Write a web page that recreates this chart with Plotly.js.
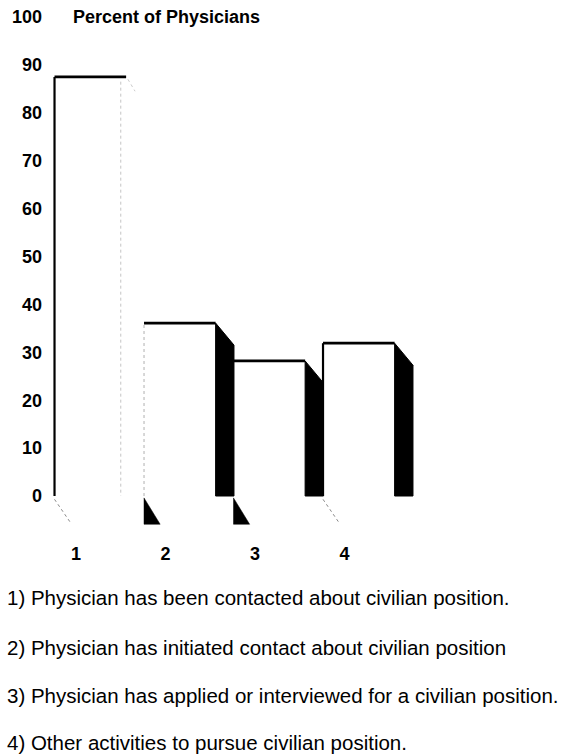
<!DOCTYPE html>
<html>
<head>
<meta charset="utf-8">
<script src="https://cdn.plot.ly/plotly-3.0.1.min.js"></script>
<style>html,body{margin:0;padding:0;background:#fff;}#chart{width:571px;height:756px;}</style>
</head>
<body>
<div id="chart"></div>
<script>
// ---- data ----
const categories = ['1', '2', '3', '4'];
const values = [87.5, 36.1, 28.2, 31.9];
const yTickValues = [0, 10, 20, 30, 40, 50, 60, 70, 80, 90, 100];
const yTickLabels = ['0', '10', '20', '30', '40', '50', '60', '70', '80', '90', '100'];
const axisTitle = 'Percent of Physicians';
const descriptions = [
  '1) Physician has been contacted about civilian position.',
  '2) Physician has initiated contact about civilian position',
  '3) Physician has applied or interviewed for a civilian position.',
  '4) Other activities to pursue civilian position.'
];

// ---- styling / geometry of the pseudo-3D bars (in axis units) ----
const FRONT_L = -0.24, FRONT_R = 0.56, SIDE_R = 0.765, DROP = 4.6;
const FLOOR_DX = 0.18, FLOOR_TOP = -0.4, FLOOR_BOT = -5.9;
const sideStyle = ['faint', 'dark', 'dark', 'dark'];
const leftEdgeStyle = ['solid', 'faint', 'none', 'solid'];
const floorStyle = ['dash', 'tri', 'tri', 'dash'];

const W = 571, H = 756;
const M = {l: 46, r: 20, t: 7, b: 222};
const pxPerX = 89.5, pxPerY = 4.79, zeroPx = 496, firstCatPx = 76;
const plotW = W - M.l - M.r, plotH = H - M.t - M.b;
const yMin = -((H - M.b) - zeroPx) / pxPerY;
const yMax = yMin + plotH / pxPerY;
const xMin = 1 - (firstCatPx - M.l) / pxPerX;
const xMax = xMin + plotW / pxPerX;

const xs = categories.map((c, i) => i + 1);
const traces = [];

// front faces
traces.push({
  type: 'bar', x: xs, y: values, width: FRONT_R - FRONT_L, offset: FRONT_L,
  marker: {color: '#ffffff', line: {width: 0}}, hoverinfo: 'skip', showlegend: false
});

values.forEach((v, i) => {
  const x = xs[i];
  const fl = x + FRONT_L, fr = x + FRONT_R, sr = x + SIDE_R;
  // side face
  if (sideStyle[i] === 'dark') {
    traces.push({type: 'scatter', mode: 'lines', x: [fr, fr, sr, sr, fr], y: [0, v, v - DROP, 0, 0],
      fill: 'toself', fillcolor: '#000', line: {color: '#000', width: 1}, hoverinfo: 'skip', showlegend: false});
  } else {
    traces.push({type: 'scatter', mode: 'lines', x: [fr - 0.06, fr - 0.06], y: [v - 1, 0],
      line: {color: '#c4c4c4', width: 1, dash: 'dot'}, hoverinfo: 'skip', showlegend: false});
    traces.push({type: 'scatter', mode: 'lines', x: [fr + 0.02, fr + 0.1], y: [v - 0.5, v - 3],
      line: {color: '#ccc', width: 1, dash: 'dot'}, hoverinfo: 'skip', showlegend: false});
  }
  // left edge
  if (leftEdgeStyle[i] === 'solid') {
    traces.push({type: 'scatter', mode: 'lines', x: [fl, fl], y: [0, v],
      line: {color: '#000', width: 2.2}, hoverinfo: 'skip', showlegend: false});
  } else if (leftEdgeStyle[i] === 'faint') {
    traces.push({type: 'scatter', mode: 'lines', x: [fl, fl], y: [0, v],
      line: {color: '#b0b0b0', width: 1, dash: 'dot'}, hoverinfo: 'skip', showlegend: false});
  }
  // top edge
  traces.push({type: 'scatter', mode: 'lines', x: [fl, fr], y: [v, v],
    line: {color: '#000', width: 2.8}, hoverinfo: 'skip', showlegend: false});
  // floor marks
  if (floorStyle[i] === 'tri') {
    traces.push({type: 'scatter', mode: 'lines', x: [fl, fl, fl + FLOOR_DX, fl], y: [FLOOR_TOP, FLOOR_BOT, FLOOR_BOT, FLOOR_TOP],
      fill: 'toself', fillcolor: '#000', line: {color: '#000', width: 0.5}, hoverinfo: 'skip', showlegend: false});
  } else {
    traces.push({type: 'scatter', mode: 'lines', x: [fl, fl + FLOOR_DX], y: [FLOOR_TOP - 0.3, FLOOR_BOT + 0.3],
      line: {color: '#888', width: 1, dash: 'dot'}, hoverinfo: 'skip', showlegend: false});
  }
});

const textFont = {family: 'Liberation Sans, Arial, sans-serif', size: 20.5, color: '#000'};
const boldFont = {family: 'Liberation Sans, Arial, sans-serif', size: 18, color: '#000', weight: 'bold'};
const descY = [597, 647, 695, 742];
const annotations = descriptions.map((t, i) => ({
  text: t, xref: 'paper', yref: 'paper', x: (5 - M.l) / plotW, y: ((H - M.b) - descY[i]) / plotH,
  xanchor: 'left', yanchor: 'middle', showarrow: false, font: textFont, align: 'left'
}));
annotations.push({
  text: axisTitle, xref: 'paper', yref: 'y', x: (71 - M.l) / plotW, y: 100,
  xanchor: 'left', yanchor: 'middle', showarrow: false,
  font: {family: 'Liberation Sans, Arial, sans-serif', size: 18, color: '#000', weight: 'bold'}
});

const layout = {
  width: W, height: H, margin: {l: M.l, r: M.r, t: M.t, b: M.b, pad: 0},
  paper_bgcolor: '#fff', plot_bgcolor: '#fff', showlegend: false, barmode: 'overlay',
  xaxis: {range: [xMin, xMax], tickvals: xs, ticktext: categories, showgrid: false, zeroline: false,
    showline: false, ticks: '', tickfont: boldFont, fixedrange: true, automargin: false, ticklabelstandoff: 7},
  yaxis: {range: [yMin, yMax], tickvals: yTickValues, ticktext: yTickLabels, showgrid: false, zeroline: false,
    showline: false, ticks: '', tickfont: boldFont, fixedrange: true, automargin: false, ticklabelstandoff: 3},
  annotations: annotations
};

Plotly.newPlot('chart', traces, layout, {staticPlot: true, displayModeBar: false});
</script>
</body>
</html>
